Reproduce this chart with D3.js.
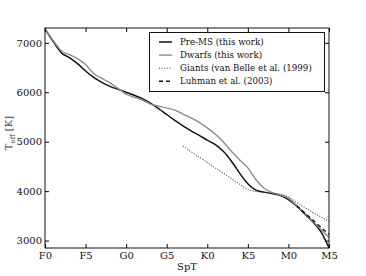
<!DOCTYPE html>
<html>
<head>
<meta charset="utf-8">
<script src="https://cdn.jsdelivr.net/npm/d3@7"></script>
<style>
  body { margin: 0; background: #fff; }
</style>
</head>
<body>
<div class="chart"></div>
<script>
// spectral type ticks (F0 = 0 ... M5 = 35)
const tickPos = [0, 5, 10, 15, 20, 25, 30, 35];
const tickLabels = ['F0', 'F5', 'G0', 'G5', 'K0', 'K5', 'M0', 'M5'];
const yTicks = [3000, 4000, 5000, 6000, 7000];

// Pre-MS (this work)
const preSpt = [0,1,2,3,4,5,6,7,8,9,10,11,12,13,14,15,16,17,18,19,20,21,22,23,24,25,26,27,28,29,30,31,32,33,34,35];
const preTeff = [7280,7030,6800,6700,6580,6430,6300,6200,6120,6060,6000,5940,5870,5780,5670,5550,5430,5320,5220,5130,5030,4940,4800,4600,4360,4150,4020,3980,3950,3910,3830,3700,3540,3380,3180,2850];

// Dwarfs (this work)
const dwarfSpt = [0,1,2,3,4,5,6,7,8,9,10,11,12,13,14,15,16,17,18,19,20,21,22,23,24,25,26,27,28,29,30,31,32,33,34,35];
const dwarfTeff = [7280,7050,6840,6760,6680,6560,6380,6280,6190,6080,5960,5900,5840,5760,5720,5680,5640,5560,5480,5390,5280,5150,4990,4800,4630,4470,4230,4060,3970,3920,3860,3710,3560,3390,3230,3060];

// Giants (van Belle et al. 1999)
const giantSpt = [17, 19, 21, 23, 25, 26, 28, 29, 30, 31, 32, 33, 34, 35];
const giantTeff = [4910, 4690, 4470, 4250, 4030, 3990, 3960, 3940, 3890, 3770, 3670, 3570, 3480, 3390];

// Luhman et al. (2003)
const luhSpt = [31, 32, 33, 34, 35];
const luhTeff = [3705, 3560, 3415, 3270, 3125];

const legendNames = ['Pre-MS (this work)', 'Dwarfs (this work)', 'Giants (van Belle et al. (1999)', 'Luhman et al. (2003)'];

const W = 366, H = 276;
const m = { left: 45, right: 37, top: 28, bottom: 28 };
const serif = 'DejaVu Serif';

const svg = d3.select('.chart').append('svg')
  .attr('width', W).attr('height', H)
  .style('font-family', serif);

const x = d3.scaleLinear().domain([0, 35]).range([m.left, W - m.right]);
const y = d3.scaleLinear().domain([2850, 7300]).range([H - m.bottom, m.top]);

const styles = [
  { stroke: '#111', width: 1.5, dash: null, curve: d3.curveMonotoneX },
  { stroke: '#8c8c8c', width: 1.4, dash: null, curve: d3.curveMonotoneX },
  { stroke: '#444', width: 1.1, dash: '1,1.6', curve: d3.curveLinear },
  { stroke: '#111', width: 1.4, dash: '4,3', curve: d3.curveLinear }
];
const series = [
  preSpt.map((s, i) => [s, preTeff[i]]),
  dwarfSpt.map((s, i) => [s, dwarfTeff[i]]),
  giantSpt.map((s, i) => [s, giantTeff[i]]),
  luhSpt.map((s, i) => [s, luhTeff[i]])
];

// curves
svg.append('g').selectAll('path')
  .data(series)
  .join('path')
  .attr('fill', 'none')
  .attr('stroke', (d, i) => styles[i].stroke)
  .attr('stroke-width', (d, i) => styles[i].width)
  .attr('stroke-dasharray', (d, i) => styles[i].dash)
  .attr('d', (d, i) => d3.line().curve(styles[i].curve).x(p => x(p[0])).y(p => y(p[1]))(d));

// axes, ticks pointing inward on all sides
const fmt = d => tickLabels[tickPos.indexOf(d)];
const fixText = g => g.attr('font-family', serif).selectAll('text')
  .attr('font-size', 10).attr('fill', '#111');
svg.append('g')
  .attr('transform', `translate(0, ${H - m.bottom})`)
  .call(d3.axisBottom(x).tickValues(tickPos).tickFormat(fmt).tickSize(-4).tickPadding(4))
  .call(fixText);
svg.append('g')
  .attr('transform', `translate(0, ${m.top})`)
  .call(d3.axisTop(x).tickValues(tickPos).tickFormat('').tickSize(-4));
svg.append('g')
  .attr('transform', `translate(${m.left}, 0)`)
  .call(d3.axisLeft(y).tickValues(yTicks).tickFormat(d3.format('d')).tickSize(-4).tickPadding(3))
  .call(fixText);
svg.append('g')
  .attr('transform', `translate(${W - m.right}, 0)`)
  .call(d3.axisRight(y).tickValues(yTicks).tickFormat('').tickSize(-4));
svg.selectAll('.domain').remove();

svg.append('rect')
  .attr('x', m.left).attr('y', m.top)
  .attr('width', W - m.left - m.right).attr('height', H - m.top - m.bottom)
  .attr('fill', 'none').attr('stroke', '#111').attr('stroke-width', 1);

// axis titles
svg.append('text')
  .attr('x', (m.left + W - m.right) / 2).attr('y', 270)
  .attr('text-anchor', 'middle').attr('font-size', 10)
  .attr('fill', '#111')
  .text('SpT');

const yl = svg.append('text')
  .attr('transform', `translate(12, 133) rotate(-90)`)
  .attr('text-anchor', 'middle').attr('font-size', 10)
  .attr('fill', '#444');
yl.append('tspan').text('T');
yl.append('tspan').attr('font-size', 7).attr('dy', 3).text('eff');
yl.append('tspan').attr('dy', -3).text(' [K]');

// legend
const lg = svg.append('g');
lg.append('rect')
  .attr('x', 149.5).attr('y', 32.5).attr('width', 175).attr('height', 59)
  .attr('fill', '#fff').attr('stroke', '#111').attr('stroke-width', 1);
const rowY = d3.scalePoint().domain(legendNames).range([42, 81.3]);
legendNames.forEach((name, i) => {
  lg.append('line')
    .attr('x1', 159).attr('x2', 172)
    .attr('y1', rowY(name)).attr('y2', rowY(name))
    .attr('stroke', styles[i].stroke)
    .attr('stroke-width', styles[i].width)
    .attr('stroke-dasharray', styles[i].dash);
  lg.append('text')
    .attr('x', 180).attr('y', rowY(name)).attr('dy', '0.35em')
    .attr('font-size', 8.7)
    .attr('fill', '#111')
    .text(name);
});
</script>
</body>
</html>
